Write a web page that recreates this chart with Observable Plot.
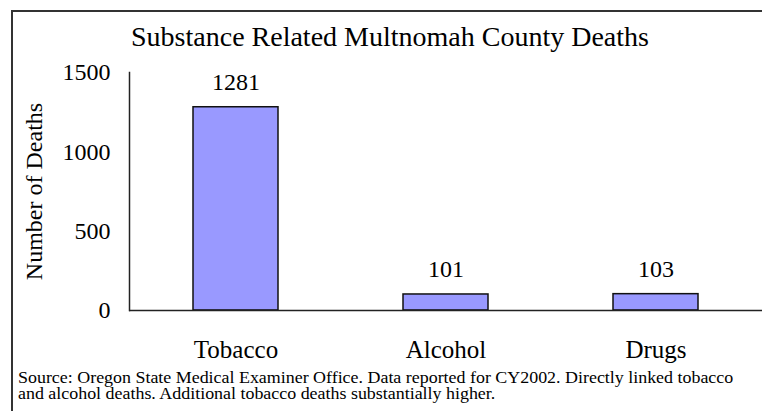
<!DOCTYPE html>
<html>
<head>
<meta charset="utf-8">
<script src="https://cdn.jsdelivr.net/npm/d3@7"></script>
<script src="https://cdn.jsdelivr.net/npm/@observablehq/plot@0.6"></script>
<style>
  html, body { margin: 0; padding: 0; background: #fff; }
  #wrap { position: relative; width: 762px; height: 411px; overflow: hidden; font-family: "Liberation Serif", "DejaVu Serif", Tinos, "Noto Serif", serif; color: #000; }
  #border { position: absolute; left: 11px; top: 10px; width: 900px; height: 600px; border-left: 2px solid #333; border-top: 2px solid #333; }
  #title { position: absolute; left: 0; width: 780px; top: 20px; text-align: center; font-size: 28px; line-height: 34px; white-space: nowrap; }
  #chart { position: absolute; left: 0; top: 0; }
  #caption { position: absolute; left: 18px; top: 370px; font-size: 16px; line-height: 16px; white-space: nowrap; transform: scaleX(1.12); transform-origin: 0 0; }
</style>
</head>
<body>
<div id="wrap">
  <div id="border"></div>
  <div id="chart"></div>
  <div id="title"></div>
  <div id="caption"></div>
</div>
<script>
const categories = ["Tobacco", "Alcohol", "Drugs"];
const deaths = [1281, 101, 103];
const yTicks = [0, 500, 1000, 1500];
const titleText = "Substance Related Multnomah County Deaths";
const yLabel = "Number of Deaths";
const captionLines = [
  "Source: Oregon State Medical Examiner Office. Data reported for CY2002. Directly linked tobacco",
  "and alcohol deaths. Additional tobacco deaths substantially higher."
];

const data = categories.map((c, i) => ({category: c, value: deaths[i]}));

document.getElementById("title").textContent = titleText;
document.getElementById("caption").innerHTML = captionLines.map(s => s.replace(/&/g, "&amp;")).join("<br>");

const fam = "'Liberation Serif', 'DejaVu Serif', Tinos, 'Noto Serif', serif";
const chart = Plot.plot({
  width: 762,
  height: 411,
  marginLeft: 129,
  marginRight: 0,
  marginTop: 72,
  marginBottom: 101,
  style: {fontFamily: fam, fontSize: "24px", color: "#000", background: "transparent"},
  x: {domain: categories, range: [129, 762], paddingInner: 0.597, paddingOuter: 0.2986},
  y: {domain: [0, 1500]},
  marks: [
    Plot.barY(data, {x: "category", y: "value", fill: "#9999ff", stroke: "#111", strokeWidth: 1.5}),
    Plot.ruleY([0], {stroke: "#222", strokeWidth: 1.5}),
    Plot.frame({anchor: "left", stroke: "#222", strokeWidth: 1.5}),
    Plot.text(data, {x: "category", y: "value", text: d => String(d.value), dy: -25, lineAnchor: "middle", fontSize: 24}),
    Plot.axisY({ticks: yTicks, tickSize: 0, tickPadding: 19, label: null, fontSize: 24, tickFormat: d => String(d)}),
    Plot.axisX({tickSize: 0, tickPadding: 30, label: null, fontSize: 25}),
    Plot.text([yLabel], {frameAnchor: "left", rotate: -90, dx: -95, text: d => d, fontSize: 24, lineAnchor: "middle", textAnchor: "middle"})
  ]
});
document.getElementById("chart").appendChild(chart);
</script>
</body>
</html>
